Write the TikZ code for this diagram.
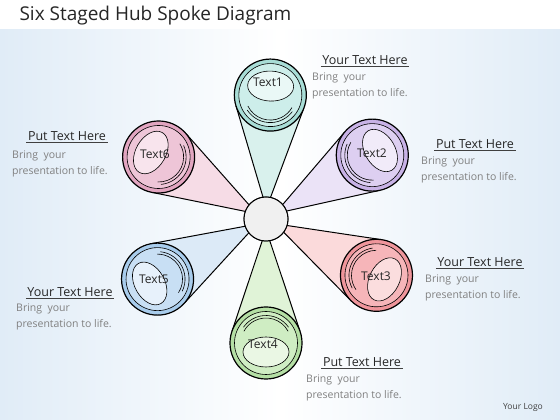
\documentclass[tikz,border=0pt]{standalone}
\usepackage{fontspec}
\setmainfont{Open Sans}
\usetikzlibrary{calc}
\pgfdeclarelayer{bg}
\pgfdeclarelayer{cones}
\pgfsetlayers{bg,cones,main}
\definecolor{bgblue}{HTML}{E0ECF7}
\definecolor{r1}{HTML}{A8DDD6}\definecolor{m1}{HTML}{CDEEEA}\definecolor{e1}{HTML}{EAF8F6}\definecolor{k1}{HTML}{D9F1ED}
\definecolor{r2}{HTML}{C8B2E6}\definecolor{m2}{HTML}{DDCFF1}\definecolor{e2}{HTML}{F1EBF9}\definecolor{k2}{HTML}{EBE3F7}
\definecolor{r3}{HTML}{EF959B}\definecolor{m3}{HTML}{F6B5B9}\definecolor{e3}{HTML}{FBDDDE}\definecolor{k3}{HTML}{FBDADB}
\definecolor{r4}{HTML}{B4DFA4}\definecolor{m4}{HTML}{CFEDC3}\definecolor{e4}{HTML}{EAF7E4}\definecolor{k4}{HTML}{E0F3D7}
\definecolor{r5}{HTML}{A8CCEC}\definecolor{m5}{HTML}{C8DFF4}\definecolor{e5}{HTML}{E7F1FB}\definecolor{k5}{HTML}{DCEAF7}
\definecolor{r6}{HTML}{E2A5C0}\definecolor{m6}{HTML}{EEC5D7}\definecolor{e6}{HTML}{F8E4ED}\definecolor{k6}{HTML}{F6DCE6}
\begin{document}
\begin{tikzpicture}[x=1pt,y=1pt,
  hubst/.style={circle,draw,line width=1pt,fill=gray!12,minimum size=44pt,inner sep=0},
  ringst/.style={circle,draw,line width=1.2pt,minimum size=72pt,inner sep=0},
  spoke/.style={line width=1pt,line cap=round},
  thinline/.style={line width=0.6pt},
  lbl/.style={font=\fontsize{12}{14}\selectfont,text=black!85,inner sep=0},
  heading/.style={font=\fontsize{12.5}{14}\selectfont,text=black!85,inner sep=1.5pt},
  uline/.style={line width=0.7pt,black!75},
  body/.style={font=\fontsize{10.5}{16}\selectfont,text=black!50,align=left,anchor=north west,inner sep=0}]
\useasboundingbox (0,0) rectangle (560,420);
\begin{pgfonlayer}{bg}
\fill[white] (0,0) rectangle (560,420);
\shade[left color=bgblue,right color=bgblue,middle color=white] (0,0) rectangle (560,390);
\end{pgfonlayer}
\node[anchor=west,font=\fontsize{19}{22}\selectfont,text=black!85] (title) at (16,404) {Six Staged Hub Spoke Diagram};
\node[hubst] (hub) at (266,201) {};
\foreach \n/\ang/\lx/\ly in {1/88/268/338,2/31/372/267,3/-27/376/144,4/-90/263/76,5/-151/154/141,6/150/155/266}{
  \pgfmathtruncatemacro\aL{\ang+10}
  \pgfmathtruncatemacro\aR{\ang-10}
  \pgfmathtruncatemacro\tL{\ang+110}
  \pgfmathtruncatemacro\tR{\ang-110}
  \node[ringst,fill=r\n] (n\n) at ($(hub.center)+(\ang:124)$) {};
  \coordinate (tl\n) at ($(n\n.center)+(\tL:36)$);
  \coordinate (tr\n) at ($(n\n.center)+(\tR:36)$);
  \begin{pgfonlayer}{cones}
    \fill[k\n] (hub.\aL) -- (tl\n) -- (n\n.center) -- (tr\n) -- (hub.\aR) -- (hub.center) -- cycle;
    \draw[spoke] (hub.\aL) -- (tl\n);
    \draw[spoke] (hub.\aR) -- (tr\n);
  \end{pgfonlayer}
  \begin{scope}[shift={(n\n.center)},rotate=\ang]
    \draw[thinline,fill=m\n] (0,0) circle (31.5);
    \draw[thinline] (125:27.5) arc[start angle=125,end angle=235,radius=27.5];
    \draw[thinline] (118:25) arc[start angle=118,end angle=242,radius=25];
    \draw[thinline,fill=e\n] (9,0) ellipse [x radius=15,y radius=23];
  \end{scope}
  \node[lbl] (t\n) at (\lx,\ly) {Text\n};
}
\node[hubst] at (hub) {};
% text blocks
\node[heading] (h1) at (365,360) {Your Text Here};
\draw[uline] (h1.south west) -- (h1.south east);
\node[body] (b1) at (312,347) {Bring\ \ your\\presentation to life.};
\node[heading] (h2) at (475,276) {Put Text Here};
\draw[uline] (h2.south west) -- (h2.south east);
\node[body] (b2) at (421,263) {Bring\ \ your\\presentation to life.};
\node[heading] (h3) at (480,158) {Your Text Here};
\draw[uline] (h3.south west) -- (h3.south east);
\node[body] (b3) at (425,145) {Bring\ \ your\\presentation to life.};
\node[heading] (h4) at (362,58) {Put Text Here};
\draw[uline] (h4.south west) -- (h4.south east);
\node[body] (b4) at (306,45) {Bring\ \ your\\presentation to life.};
\node[heading] (h5) at (70,128) {Your Text Here};
\draw[uline] (h5.south west) -- (h5.south east);
\node[body] (b5) at (16,116) {Bring\ \ your\\presentation to life.};
\node[heading] (h6) at (67,284) {Put Text Here};
\draw[uline] (h6.south west) -- (h6.south east);
\node[body] (b6) at (12,269) {Bring\ \ your\\presentation to life.};
\node[font=\fontsize{8.5}{10}\selectfont,text=black!75] (logo) at (523,13) {Your Logo};
\end{tikzpicture}
\end{document}
